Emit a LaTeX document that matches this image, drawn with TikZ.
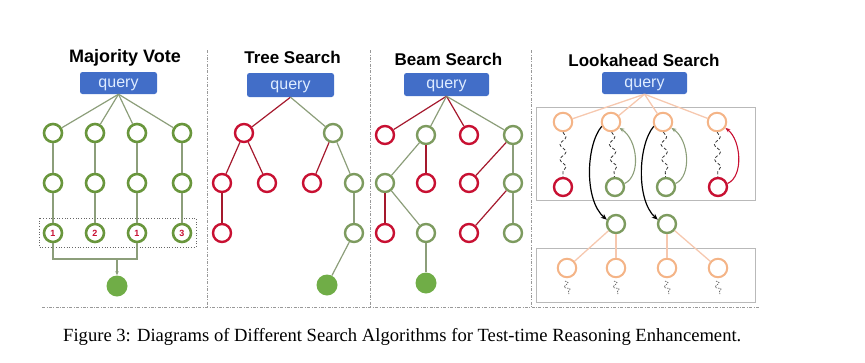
\documentclass[tikz,border=0pt]{standalone}
\usepackage{fontspec}
\setmainfont{Liberation Serif}
\setsansfont{Liberation Sans}
\usetikzlibrary{decorations.pathmorphing,arrows.meta}
\definecolor{qblue}{RGB}{66,110,200}
\definecolor{qtext}{RGB}{222,236,255}
\definecolor{cred}{RGB}{200,16,50}
\definecolor{lred}{RGB}{165,25,45}
\definecolor{cgreen}{RGB}{125,155,95}
\definecolor{mvgreen}{RGB}{105,150,60}
\definecolor{lgreen}{RGB}{140,158,122}
\definecolor{fgreen}{RGB}{112,173,71}
\definecolor{corange}{RGB}{244,180,135}
\definecolor{lorange}{RGB}{246,200,175}
\tikzset{
  sepline/.style={draw=gray!80, line width=0.7pt, dash pattern=on 3pt off 1.5pt on 0.8pt off 1.5pt},
  ttl/.style={anchor=base, font=\sffamily\bfseries\fontsize{17}{17}\selectfont},
  qbox/.style={rectangle, rounded corners=2.5pt, fill=qblue, text=qtext, font=\sffamily\fontsize{16}{16}\selectfont, minimum width=85pt, minimum height=23pt, inner sep=0pt, text height=11pt, text depth=2.7pt},
  rnode/.style={circle, draw=cred, line width=2.4pt, minimum size=18pt, inner sep=0pt, fill=white},
  gnode/.style={circle, draw=cgreen, line width=2.4pt, minimum size=18pt, inner sep=0pt, fill=white},
  mvnode/.style={circle, draw=mvgreen, line width=2.6pt, minimum size=18pt, inner sep=0pt, fill=white, text=cred, font=\sffamily\bfseries\fontsize{9}{9}\selectfont},
  onode/.style={circle, draw=corange, line width=2pt, minimum size=18.5pt, inner sep=0pt, fill=white},
  fnode/.style={circle, fill=fgreen, minimum size=21pt, inner sep=0pt},
  rline/.style={draw=lred, line width=1.2pt},
  gline/.style={draw=lgreen, line width=1.2pt},
  oline/.style={draw=lorange, line width=1.3pt},
  snk/.style={draw=black!80, line width=0.8pt, dash pattern=on 3pt off 2pt, decorate, decoration={snake, segment length=15pt, amplitude=3pt}},
  snks/.style={draw=black!70, line width=0.6pt, dash pattern=on 1.5pt off 1pt, decorate, decoration={snake, segment length=7pt, amplitude=2.5pt}},
  boxline/.style={draw=gray!55, line width=0.9pt},
  garrow/.style={draw=lgreen, line width=1.1pt, -{Stealth[length=5pt,width=4pt]}},
  rarrow/.style={draw=cred, line width=1.1pt, -{Stealth[length=5pt,width=4pt]}},
  barrow/.style={draw=black, line width=1.2pt, -{Stealth[length=6pt,width=5pt]}}
}
\begin{document}
\begin{tikzpicture}[x=1pt,y=-1pt]
\useasboundingbox (0,0) rectangle (865,362);
% separators
\draw[sepline] (207,50) -- (207,307);
\draw[sepline] (370,50) -- (370,307);
\draw[sepline] (531,50) -- (531,307);
\draw[sepline] (42,307) -- (760,307);

% ===== Majority Vote =====
\node[ttl, font=\sffamily\bfseries\fontsize{18}{18}\selectfont] (mt) at (125,62) {Majority Vote};
\node[qbox, minimum width=77pt, minimum height=22pt] (mq) at (118.5,83) {query};
\draw[dotted, draw=black!60, line width=0.7pt] (39,218) rectangle (196,247);
\foreach \i/\x in {1/53,2/95,3/137,4/182}{
  \node[mvnode] (m1\i) at (\x,133) {};
  \node[mvnode] (m2\i) at (\x,183) {};
}
\node[mvnode] (m31) at (53,233) {1};
\node[mvnode] (m32) at (95,233) {2};
\node[mvnode] (m33) at (137,233) {1};
\node[mvnode] (m34) at (182,233) {3};
\node[fnode] (mf) at (117,286) {};
\coordinate (mj) at (117,259);
\foreach \i in {1,2,3,4}{
  \draw[gline] (mq.south) -- (m1\i);
  \draw[gline] (m1\i) -- (m2\i);
  \draw[gline] (m2\i) -- (m3\i);
}
\draw[gline] (m31) |- (mj) -| (m33);
\draw[gline, -{Stealth[length=4pt,width=3.5pt]}] (mj) -- (mf);

% ===== Tree Search =====
\node[ttl] (tt) at (292.5,63) {Tree Search};
\node[qbox, minimum width=87pt, minimum height=24pt] (tq) at (290.5,85) {query};
\node[rnode] (t1r) at (244,133) {};
\node[gnode] (t1g) at (333,133) {};
\node[rnode] (t2a) at (222,183) {};
\node[rnode] (t2b) at (267,183) {};
\node[rnode] (t2c) at (312,183) {};
\node[gnode] (t2d) at (354,183) {};
\node[rnode] (t3a) at (222,233) {};
\node[gnode] (t3b) at (354,233) {};
\node[fnode] (tf) at (327,285) {};
\draw[rline] (tq.south) -- (t1r);
\draw[gline] (tq.south) -- (t1g);
\draw[rline] (t1r) -- (t2a);
\draw[rline] (t1r) -- (t2b);
\draw[rline] (t1g) -- (t2c);
\draw[gline] (t1g) -- (t2d);
\draw[rline] (t2a) -- (t3a);
\draw[gline] (t2d) -- (t3b);
\draw[gline] (t3b) -- (tf);

% ===== Beam Search =====
\node[ttl] (bt) at (448.5,65) {Beam Search};
\node[qbox] (bq) at (446.5,84.5) {query};
\node[rnode] (b1a) at (385,135) {};
\node[gnode] (b1b) at (426,135) {};
\node[rnode] (b1c) at (469,135) {};
\node[gnode] (b1d) at (513,135) {};
\node[gnode] (b2a) at (385,183) {};
\node[rnode] (b2b) at (426,183) {};
\node[rnode] (b2c) at (469,183) {};
\node[gnode] (b2d) at (513,183) {};
\node[rnode] (b3a) at (385,233) {};
\node[gnode] (b3b) at (426,233) {};
\node[rnode] (b3c) at (469,233) {};
\node[gnode] (b3d) at (513,233) {};
\node[fnode] (bf) at (426,283) {};
\draw[rline] (bq.south) -- (b1a);
\draw[gline] (bq.south) -- (b1b);
\draw[rline] (bq.south) -- (b1c);
\draw[gline] (bq.south) -- (b1d);
\draw[gline] (b1b) -- (b2a);
\draw[rline] (b1b) -- (b2b);
\draw[rline] (b1d) -- (b2c);
\draw[gline] (b1d) -- (b2d);
\draw[rline] (b2a) -- (b3a);
\draw[gline] (b2a) -- (b3b);
\draw[rline] (b2d) -- (b3c);
\draw[gline] (b2d) -- (b3d);
\draw[gline] (b3b) -- (bf);

% ===== Lookahead Search =====
\node[ttl] (lt) at (644,66) {Lookahead Search};
\node[qbox, minimum height=22pt] (lq) at (644.5,83) {query};
\draw[boxline] (536,107) rectangle (755,200);
\draw[boxline] (536,248) rectangle (755,302);
\node[onode] (la1) at (563,122) {};
\node[onode] (la2) at (611,122) {};
\node[onode] (la3) at (663,122) {};
\node[onode] (la4) at (717,122) {};
\node[rnode] (lb1) at (563,187) {};
\node[gnode] (lb2) at (615,187) {};
\node[gnode] (lb3) at (666,187) {};
\node[rnode] (lb4) at (718,187) {};
\node[gnode] (lm1) at (616,224) {};
\node[gnode] (lm2) at (667,224) {};
\node[onode] (lc1) at (567,268) {};
\node[onode] (lc2) at (616,268) {};
\node[onode] (lc3) at (667,268) {};
\node[onode] (lc4) at (718,268) {};
\foreach \i in {1,2,3,4}{
  \draw[oline] (lq.south) -- (la\i);
  \draw[snk] (la\i) -- (lb\i);
}
\draw[oline] (lm1) -- (lc1);
\draw[oline] (lm1) -- (lc2);
\draw[oline] (lm2) -- (lc3);
\draw[oline] (lm2) -- (lc4);
\draw[garrow] (lb2.20) .. controls (641,176) and (638,140) .. (la2.-35);
\draw[garrow] (lb3.20) .. controls (692,176) and (689,140) .. (la3.-35);
\draw[rarrow] (lb4.20) .. controls (744,176) and (741,140) .. (la4.-35);
\draw[barrow] (la2.205) .. controls (586,145) and (584,200) .. (lm1.155);
\draw[barrow] (la3.205) .. controls (638,145) and (636,200) .. (lm2.155);
\foreach \i/\x in {1/567,2/616,3/667,4/718}{
  \coordinate (s\i) at (\x+2,294);
  \draw[snks] (\x-2,281) -- (s\i);
}

% caption
\node[anchor=base west, inner sep=0pt, font=\fontsize{18.6}{20}\selectfont] (cap) at (63,341) {Figure 3: Diagrams of Different Search Algorithms for Test-time Reasoning Enhancement.};
\end{tikzpicture}
\end{document}
